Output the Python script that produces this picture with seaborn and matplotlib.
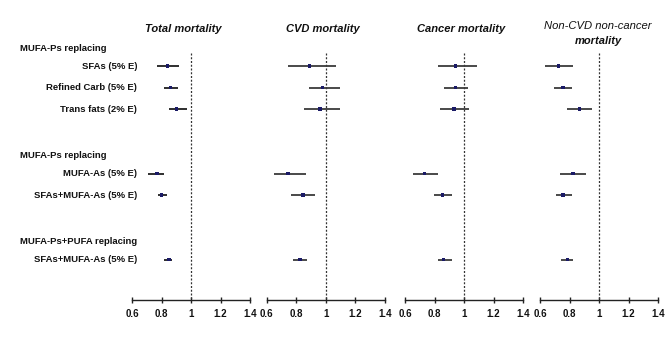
import matplotlib
matplotlib.use("Agg")
import matplotlib.pyplot as plt
import matplotlib.transforms as mtransforms
import numpy as np
import pandas as pd
import seaborn as sns

sns.set_theme(style="white")
plt.rcParams['font.family'] = ['Liberation Sans', 'DejaVu Sans']

# ---- data ----
panel_titles = ["Total mortality", "CVD mortality", "Cancer mortality", "Non-CVD non-cancer\nmortality"]
row_labels = ["SFAs (5% E)", "Refined Carb (5% E)", "Trans fats (2% E)",
              "MUFA-As (5% E)", "SFAs+MUFA-As (5% E)", "SFAs+MUFA-As (5% E)"]
row_pos = [0, 1, 2, 5, 6, 9]
group_headers = ["MUFA-Ps replacing", "MUFA-Ps replacing", "MUFA-Ps+PUFA replacing"]
header_pos = [-0.8, 4.15, 8.15]

hr_total = [0.84, 0.86, 0.90, 0.77, 0.80, 0.85]
lo_total = [0.77, 0.82, 0.85, 0.71, 0.775, 0.82]
hi_total = [0.92, 0.91, 0.97, 0.82, 0.84, 0.87]

hr_cvd = [0.89, 0.98, 0.96, 0.745, 0.846, 0.826]
lo_cvd = [0.746, 0.885, 0.85, 0.65, 0.765, 0.776]
hi_cvd = [1.07, 1.10, 1.10, 0.865, 0.925, 0.875]

hr_cancer = [0.943, 0.943, 0.932, 0.733, 0.853, 0.862]
lo_cancer = [0.826, 0.864, 0.835, 0.654, 0.794, 0.826]
hi_cancer = [1.09, 1.025, 1.034, 0.826, 0.916, 0.916]

hr_other = [0.726, 0.755, 0.866, 0.823, 0.755, 0.785]
lo_other = [0.637, 0.695, 0.785, 0.735, 0.706, 0.745]
hi_other = [0.825, 0.816, 0.955, 0.915, 0.816, 0.825]

ticks = [0.6, 0.8, 1.0, 1.2, 1.4]
tick_labels = ["0.6", "0.8", "1", "1.2", "1.4"]

series = [(hr_total, lo_total, hi_total), (hr_cvd, lo_cvd, hi_cvd),
          (hr_cancer, lo_cancer, hi_cancer), (hr_other, lo_other, hi_other)]
ci_colors = ["#1e1e1e", "#3a3a3a", "#3a3a3a", "#3a3a3a"]

W, H = 672, 348
fig = plt.figure(figsize=(W / 100, H / 100), dpi=100)

lefts = [132, 266.7, 405, 540]
width = 118
bottom_px, top_px = 300, 45
ylim = (10.88, -0.98)

axes = []
for i, left in enumerate(lefts):
    ax = fig.add_axes([left / W, 1 - bottom_px / H, width / W, (bottom_px - top_px) / H])
    hr, lo, hi = series[i]
    df = pd.DataFrame({"hr": hr, "lo": lo, "hi": hi, "pos": row_pos})
    ax.hlines(df["pos"], df["lo"], df["hi"], color=ci_colors[i], lw=1.3, zorder=2)
    sns.scatterplot(data=df, x="hr", y="pos", ax=ax, marker="s", s=6,
                    color="#1a1a66", edgecolor="none", zorder=3, legend=False)
    ax.plot([1, 1], [-0.6, ylim[0]], ls=(0, (1.6, 1.4)), color="#333333", lw=0.9, zorder=1)
    ax.set_xlim(0.6, 1.4)
    ax.set_ylim(*ylim)
    ax.set_xlabel("")
    ax.set_ylabel("")
    ax.set_yticks([])
    ax.set_xticks(ticks)
    ax.set_xticklabels(tick_labels, fontweight="bold", fontsize=7)
    for s in ["top", "left", "right"]:
        ax.spines[s].set_visible(False)
    ax.spines["bottom"].set_color("#222222")
    ax.spines["bottom"].set_linewidth(1.0)
    ax.tick_params(axis="x", direction="inout", length=5, width=1, color="#222222", pad=4,
                   bottom=True, labelcolor="#111111")
    ax.set_facecolor("none")
    axes.append(ax)

# Titles
title_x = [183, 322.5, 461, 598]
for i, t in enumerate(panel_titles[:3]):
    fig.text(title_x[i] / W, 1 - 29 / H, t, ha="center", va="center",
             fontsize=8, fontweight="bold", style="italic", color="#111111")
fig.text(title_x[3] / W, 1 - 26 / H, panel_titles[3].split("\n")[0], ha="center", va="center",
         fontsize=8.1, style="italic", color="#111111")
fig.text(title_x[3] / W, 1 - 40.5 / H, panel_titles[3].split("\n")[1], ha="center", va="center",
         fontsize=8, fontweight="bold", style="italic", color="#111111")

# Left labels
trans = mtransforms.blended_transform_factory(fig.transFigure, axes[0].transData)
for h, p in zip(group_headers, header_pos):
    fig.text(20 / W, p, h, transform=trans, ha="left", va="center",
             fontsize=6.8, fontweight="bold", color="#111111")
for lab, p in zip(row_labels, row_pos):
    fig.text(137 / W, p, lab, transform=trans, ha="right", va="center",
             fontsize=6.8, fontweight="bold", color="#111111")

fig.savefig("out.png", dpi=100, facecolor="white")
